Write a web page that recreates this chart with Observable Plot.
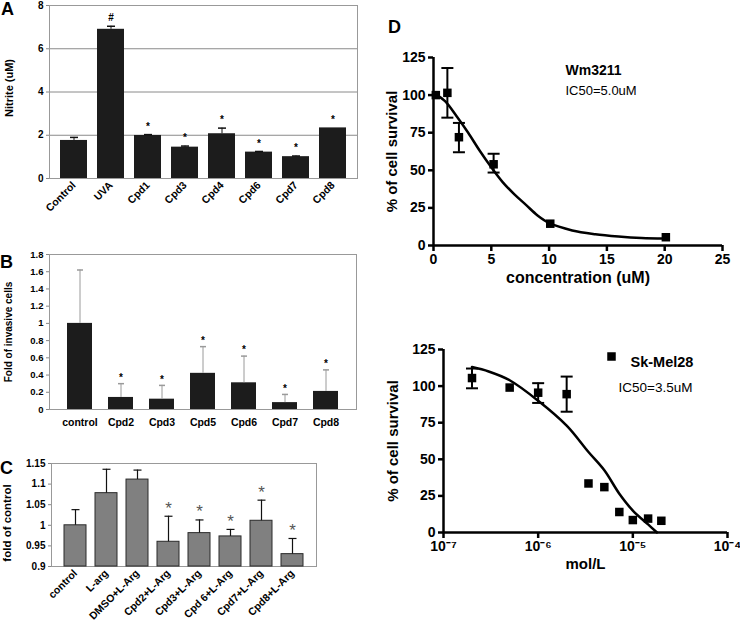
<!DOCTYPE html>
<html><head><meta charset="utf-8">
<script src="https://cdn.jsdelivr.net/npm/d3@7"></script>
<script src="https://cdn.jsdelivr.net/npm/@observablehq/plot@0.6"></script>
<style>
body{margin:0;background:#fff;}
#root{position:relative;width:740px;height:623px;background:#fff;overflow:hidden;font-family:'Liberation Sans',Arial,sans-serif;}
.plab{position:absolute;font-weight:bold;font-size:18px;line-height:18px;}
</style></head>
<body><div id="root"></div>
<script>
// ---------- Panel A: Nitrite ----------
const catsA = ["Control","UVA","Cpd1","Cpd3","Cpd4","Cpd6","Cpd7","Cpd8"];
const valsA = [1.76, 6.9, 1.99, 1.45, 2.07, 1.22, 1.01, 2.34];
const errA  = [0.14, 0.14, 0.04, 0.05, 0.26, 0.03, 0.03, 0.0];
const markA = ["", "#", "*", "*", "*", "*", "*", "*"];
const ticksA = [0, 2, 4, 6, 8];

// ---------- Panel B: invasive cells ----------
const catsB = ["control","Cpd2","Cpd3","Cpd5","Cpd6","Cpd7","Cpd8"];
const valsB = [1.0, 0.14, 0.12, 0.42, 0.31, 0.08, 0.21];
const errB  = [0.62, 0.16, 0.16, 0.31, 0.31, 0.095, 0.25];
const markB = ["", "*", "*", "*", "*", "*", "*"];
const ticksB = [0, 0.2, 0.4, 0.6, 0.8, 1, 1.2, 1.4, 1.6, 1.8];

// ---------- Panel C: fold of control ----------
const catsC = ["control","L-arg","DMSO+L-Arg","Cpd2+L-Arg","Cpd3+L-Arg","Cpd 6+L-Arg","Cpd7+L-Arg","Cpd8+L-Arg"];
const valsC = [1.0, 1.078, 1.111, 0.96, 0.981, 0.973, 1.011, 0.93];
const errC  = [0.038, 0.058, 0.023, 0.062, 0.032, 0.017, 0.05, 0.038];
const markC = ["", "", "", "*", "*", "*", "*", "*"];
const ticksC = [0.9, 0.95, 1, 1.05, 1.1, 1.15];

// ---------- Panel D top: Wm3211 ----------
const concD1 = [0.2, 1.2, 2.2, 5.2, 10.1, 20.1];
const survD1 = [100, 101.5, 72, 54, 14.5, 5.5];
const loD1   = [null, 85, 62, 48.5, null, null];
const hiD1   = [null, 118, 81.5, 61, null, null];
const fitXD1 = [0.3, 1, 2, 3, 4, 5, 6, 7, 8, 9, 10, 12, 14, 16, 18, 20];
const fitYD1 = [100, 96, 86, 75, 63, 52, 42, 34, 27, 20, 15, 10, 7.5, 6, 5, 4.6];
const ticksXD1 = [0, 5, 10, 15, 20, 25];
const ticksYD = [0, 25, 50, 75, 100, 125];

// ---------- Panel D bottom: Sk-Mel28 ----------
const concD2 = [2e-7, 5e-7, 1e-6, 2e-6, 3.4e-6, 5e-6, 7.2e-6, 1e-5, 1.45e-5, 2e-5];
const survD2 = [105.5, 99, 95.5, 94.5, 33.5, 31, 14, 8.5, 9.5, 8];
const loD2   = [98.5, null, 88.5, 82.5, null, null, null, null, null, null];
const hiD2   = [112, null, 102, 106.5, null, null, null, null, null, null];
const fitXD2 = [2e-7, 3e-7, 5e-7, 1e-6, 2e-6, 3.4e-6, 5e-6, 7.2e-6, 1e-5, 1.45e-5, 1.8e-5];
const fitYD2 = [113, 110, 104, 90, 73, 55, 42.5, 26.5, 15, 5.5, 0];
const ticksXD2 = [1e-7, 1e-6, 1e-5, 1e-4];

const FONT = "'Liberation Sans', Arial, sans-serif";
const root = document.getElementById("root");
function place(el, left, top) {
  el.style.position = "absolute";
  el.style.left = left + "px";
  el.style.top = top + "px";
  el.style.background = "transparent";
  root.appendChild(el);
}
function label(txt, left, top) {
  const d = document.createElement("div");
  d.className = "plab"; d.textContent = txt;
  d.style.left = left + "px"; d.style.top = top + "px";
  root.appendChild(d);
}
const cap = {draw(ctx, size) { const r = Math.sqrt(size / Math.PI); ctx.moveTo(-r, 0); ctx.lineTo(r, 0); }};
const baseStyle = {fontFamily: FONT, fontSize: "10px", fontWeight: "bold", background: "transparent", color: "#000"};
const fmt = d => String(+d.toFixed(2));

// Panel A
const dataA = catsA.map((c, i) => ({c, v: valsA[i], e: errA[i], m: markA[i]}));
place(Plot.plot({
  width: 370, height: 215, marginLeft: 49, marginRight: 13, marginTop: 5, marginBottom: 37,
  style: baseStyle,
  x: {domain: catsA, padding: 0.27, label: null},
  y: {domain: [0, 8], label: null},
  marks: [
    Plot.gridY(ticksA, {stroke: "#8a8a8a", strokeOpacity: 1}),
    Plot.frame({stroke: "#999"}),
    Plot.barY(dataA, {x: "c", y: "v", fill: "#1c1c1c"}),
    Plot.ruleX(dataA.filter(d => d.e > 0), {x: "c", y1: "v", y2: d => d.v + d.e, stroke: "#111", strokeWidth: 1}),
    Plot.dot(dataA.filter(d => d.e > 0), {x: "c", y: d => d.v + d.e, symbol: cap, r: 4, stroke: "#111", fill: "none"}),
    Plot.text(dataA, {x: "c", y: d => d.v + d.e, text: "m", dy: -8, fontSize: 10, fill: "#000"}),
    Plot.axisY({ticks: ticksA, tickSize: 3, tickPadding: 3, stroke: "#888", tickFormat: fmt, fontSize: 10, label: null}),
    Plot.axisX({tickSize: 0, tickRotate: -45, tickPadding: 5, fontSize: 10.5, label: null}),
    Plot.text(["Nitrite (uM)"], {frameAnchor: "left", dx: -40, dy: -4, rotate: -90, textAnchor: "middle", fontSize: 11})
  ]
}), 0, 0);

// Panel B
const dataB = catsB.map((c, i) => ({c, v: valsB[i], e: errB[i], m: markB[i]}));
place(Plot.plot({
  width: 370, height: 218, marginLeft: 49, marginRight: 14, marginTop: 32, marginBottom: 31,
  style: baseStyle,
  x: {domain: catsB, padding: 0.385, label: null},
  y: {domain: [0, 1.8], label: null},
  marks: [
    Plot.frame({stroke: "#999"}),
    Plot.barY(dataB, {x: "c", y: "v", fill: "#1c1c1c"}),
    Plot.ruleX(dataB, {x: "c", y1: "v", y2: d => d.v + d.e, stroke: "#9a9a9a", strokeWidth: 1}),
    Plot.dot(dataB, {x: "c", y: d => d.v + d.e, symbol: cap, r: 3, stroke: "#9a9a9a", fill: "none"}),
    Plot.text(dataB, {x: "c", y: d => d.v + d.e, text: "m", dy: -6, fontSize: 10, fill: "#000"}),
    Plot.axisY({ticks: ticksB, tickSize: 3, tickPadding: 3, stroke: "#888", tickFormat: fmt, fontSize: 9.5, label: null}),
    Plot.axisX({tickSize: 0, tickPadding: 9, fontSize: 10.5, label: null}),
    Plot.text(["Fold of invasive cells"], {frameAnchor: "left", dx: -41, rotate: -90, textAnchor: "middle", fontSize: 10})
  ]
}), 0, 222);

// Panel C
const dataC = catsC.map((c, i) => ({c, v: valsC[i], e: errC[i], m: markC[i]}));
place(Plot.plot({
  width: 370, height: 183, marginLeft: 51, marginRight: 54, marginTop: 23, marginBottom: 57,
  style: baseStyle,
  x: {domain: catsC, padding: 0.3, label: null},
  y: {domain: [ticksC[0], ticksC[ticksC.length - 1]], label: null},
  marks: [
    Plot.frame({stroke: "#999"}),
    Plot.barY(dataC, {x: "c", y1: () => ticksC[0], y2: "v", fill: "#808080", stroke: "#2a2a2a", strokeWidth: 1}),
    Plot.ruleX(dataC, {x: "c", y1: "v", y2: d => d.v + d.e, stroke: "#111", strokeWidth: 1.2}),
    Plot.dot(dataC, {x: "c", y: d => d.v + d.e, symbol: cap, r: 4, stroke: "#111", strokeWidth: 1.2, fill: "none"}),
    Plot.text(dataC, {x: "c", y: d => d.v + d.e, text: "m", dy: -8, fontSize: 17, fontWeight: "normal", fill: "#555"}),
    Plot.axisY({ticks: ticksC, tickSize: 3, tickPadding: 3, stroke: "#888", tickFormat: fmt, fontSize: 10, label: null}),
    Plot.axisX({tickSize: 0, tickRotate: -45, tickPadding: 5, fontSize: 10.5, label: null}),
    Plot.text(["fold of control"], {frameAnchor: "left", dx: -44, dy: 8, rotate: -90, textAnchor: "middle", fontSize: 11.5})
  ]
}), 0, 440);

// Panel D top
const dataD1 = concD1.map((x, i) => ({x, y: survD1[i], lo: loD1[i], hi: hiD1[i]}));
const errD1 = dataD1.filter(d => d.lo != null);
const fitD1 = fitXD1.map((x, i) => ({x, y: fitYD1[i]}));
place(Plot.plot({
  width: 370, height: 300, marginLeft: 63, marginRight: 18, marginTop: 57, marginBottom: 55,
  style: baseStyle,
  x: {domain: [0, 25], label: null},
  y: {domain: [0, 125], label: null},
  marks: [
    Plot.line(fitD1, {x: "x", y: "y", curve: "catmull-rom", strokeWidth: 2.5, stroke: "#000"}),
    Plot.ruleX(errD1, {x: "x", y1: "lo", y2: "hi", strokeWidth: 2, stroke: "#000"}),
    Plot.dot(errD1, {x: "x", y: "lo", symbol: cap, r: 6, stroke: "#000", strokeWidth: 2}),
    Plot.dot(errD1, {x: "x", y: "hi", symbol: cap, r: 6, stroke: "#000", strokeWidth: 2}),
    Plot.dot(dataD1, {x: "x", y: "y", symbol: "square", r: 4.8, fill: "#000"}),
    Plot.ruleY([0], {strokeWidth: 2.5}),
    Plot.ruleX([0], {strokeWidth: 2.5}),
    Plot.axisX({ticks: ticksXD1, tickSize: 6, strokeWidth: 2.5, tickPadding: 3, fontSize: 14, label: null}),
    Plot.axisY({ticks: ticksYD, tickSize: 5, strokeWidth: 2.5, tickPadding: 3, fontSize: 14, label: null}),
    Plot.text(["concentration (uM)"], {frameAnchor: "bottom", dy: 37, fontSize: 16}),
    Plot.text(["% of cell survival"], {frameAnchor: "left", dx: -41, rotate: -90, textAnchor: "middle", fontSize: 15}),
    Plot.text(["Wm3211"], {frameAnchor: "top-left", dx: 132, dy: 8, textAnchor: "start", fontSize: 14}),
    Plot.text(["IC50=5.0uM"], {frameAnchor: "top-left", dx: 132, dy: 28, textAnchor: "start", fontSize: 13, fontWeight: "normal"})
  ]
}), 370, 0);

// Panel D bottom
const sup = n => String(n).replace("-", "\u207B").replace(/\d/g, c => "\u2070\u00B9\u00B2\u00B3\u2074\u2075\u2076\u2077\u2078\u2079"[+c]);
const dataD2 = concD2.map((x, i) => ({x, y: survD2[i], lo: loD2[i], hi: hiD2[i]}));
const errD2 = dataD2.filter(d => d.lo != null);
const fitD2 = fitXD2.map((x, i) => ({x, y: fitYD2[i]}));
place(Plot.plot({
  width: 370, height: 323, marginLeft: 73, marginRight: 13, marginTop: 49, marginBottom: 91,
  style: baseStyle,
  x: {type: "log", domain: [1e-7, 1e-4], label: null},
  y: {domain: [0, 125], label: null},
  marks: [
    Plot.line(fitD2, {x: "x", y: "y", curve: "catmull-rom", strokeWidth: 2.5, stroke: "#000"}),
    Plot.ruleX(errD2, {x: "x", y1: "lo", y2: "hi", strokeWidth: 2, stroke: "#000"}),
    Plot.dot(errD2, {x: "x", y: "lo", symbol: cap, r: 6, stroke: "#000", strokeWidth: 2}),
    Plot.dot(errD2, {x: "x", y: "hi", symbol: cap, r: 6, stroke: "#000", strokeWidth: 2}),
    Plot.dot(dataD2, {x: "x", y: "y", symbol: "square", r: 4.8, fill: "#000"}),
    Plot.ruleY([0], {strokeWidth: 2.5}),
    Plot.ruleX([1e-7], {strokeWidth: 2.5}),
    Plot.axisX({ticks: ticksXD2, tickSize: 6, strokeWidth: 2.5, tickPadding: 3, fontSize: 14, tickFormat: d => "10" + sup(Math.round(Math.log10(d))), label: null}),
    Plot.axisY({ticks: ticksYD, tickSize: 5, strokeWidth: 2.5, tickPadding: 3, fontSize: 14, label: null}),
    Plot.text(["mol/L"], {frameAnchor: "bottom", dy: 36, fontSize: 15}),
    Plot.text(["% of cell survival"], {frameAnchor: "left", dx: -50, rotate: -90, textAnchor: "middle", fontSize: 15}),
    Plot.dot([0], {frameAnchor: "top-left", dx: 168, dy: 7, symbol: "square", r: 4.8, fill: "#000"}),
    Plot.text(["Sk-Mel28"], {frameAnchor: "top-left", dx: 187, dy: 7, textAnchor: "start", fontSize: 14.5}),
    Plot.text(["IC50=3.5uM"], {frameAnchor: "top-left", dx: 175, dy: 33, textAnchor: "start", fontSize: 13.5, fontWeight: "normal"})
  ]
}), 370, 300);

label("A", 1, 0);
label("B", 0, 253);
label("C", 0, 459);
label("D", 388, 18);
</script></body></html>
